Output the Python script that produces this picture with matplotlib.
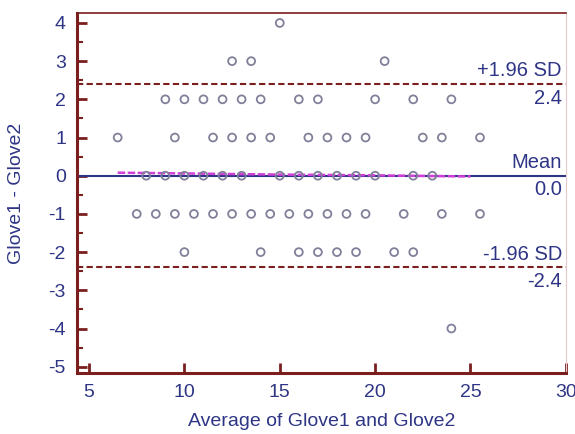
import matplotlib
matplotlib.use("Agg")
import matplotlib.pyplot as plt
import numpy as np

plt.rcParams['font.family'] = ['Liberation Sans', 'DejaVu Sans']
plt.rcParams['axes.unicode_minus'] = False

# Bland-Altman points: average (x) and difference (y)
avg_4 = [15]
avg_3 = [12.5, 13.5, 20.5]
avg_2 = [9, 10, 11, 12, 13, 14, 16, 17, 20, 22, 24]
avg_1 = [6.5, 9.5, 11.5, 12.5, 13.5, 14.5, 16.5, 17.5, 18.5, 19.5, 22.5, 23.5, 25.5]
avg_0 = [8, 9, 10, 11, 12, 13, 15, 16, 17, 18, 19, 20, 22, 23]
avg_m1 = [7.5, 8.5, 9.5, 10.5, 11.5, 12.5, 13.5, 14.5, 15.5, 16.5, 17.5, 18.5, 19.5, 21.5, 23.5, 25.5]
avg_m2 = [10, 14, 16, 17, 18, 19, 21, 22]
avg_m4 = [24]

mean_diff = 0.0
upper_loa = 2.4
lower_loa = -2.4

# smoothed trend (magenta)
trend_x = [6.5, 10, 15, 20, 25]
trend_y = [0.08, 0.06, 0.03, 0.01, -0.02]

xs, ys = [], []
for d, row in [(4, avg_4), (3, avg_3), (2, avg_2), (1, avg_1), (0, avg_0),
               (-1, avg_m1), (-2, avg_m2), (-4, avg_m4)]:
    xs += row
    ys += [d] * len(row)

navy = '#2e3585'
red = '#7a1e1e'

fig = plt.figure(figsize=(5.75, 4.34), dpi=100)
ax = fig.add_axes([0.134, 0.141, 0.850, 0.829])

ax.axhline(0, color='#333333', lw=1.2, ls=(0, (1, 1.5)), zorder=1)
ax.axhline(mean_diff, color=navy, lw=1.5, zorder=2)
ax.plot(trend_x, trend_y, color='#d040d8', lw=1.8, ls=(0, (3, 1)), zorder=2.5)
ax.axhline(upper_loa, color=red, lw=1.5, ls=(0, (3, 1.6)), zorder=2)
ax.axhline(lower_loa, color=red, lw=1.5, ls=(0, (3, 1.6)), zorder=2)

ax.scatter(xs, ys, s=32, facecolors='none', edgecolors='#80809a', linewidths=1.3, zorder=3)

tx = 29.8
kw = dict(ha='right', color=navy, fontsize=14.5)
ax.text(tx, upper_loa + 0.1, '+1.96 SD', va='bottom', **kw)
ax.text(tx, upper_loa - 0.12, f'{upper_loa:.1f}', va='top', **kw)
ax.text(tx, mean_diff + 0.1, 'Mean', va='bottom', **kw)
ax.text(tx, mean_diff - 0.12, f'{mean_diff:.1f}', va='top', **kw)
ax.text(tx, lower_loa + 0.1, '-1.96 SD', va='bottom', **kw)
ax.text(tx, lower_loa - 0.12, f'{lower_loa:.1f}', va='top', **kw)

ax.set_xlim(4.37, 30.0)
ax.set_ylim(-5.16, 4.26)
ax.set_xticks([5, 10, 15, 20, 25, 30])
ax.set_yticks(range(-5, 5))
ax.set_yticks(np.arange(-4.5, 4.5, 1), minor=True)

for s in ['left', 'bottom']:
    ax.spines[s].set_color(red)
    ax.spines[s].set_linewidth(2.2)
ax.spines['top'].set_color(red)
ax.spines['top'].set_linewidth(1.2)
ax.spines['right'].set_color('#e8c8c8')
ax.spines['right'].set_linewidth(0.8)

ax.tick_params(axis='both', which='major', direction='in', length=7, width=2,
               color=red, labelcolor=navy, labelsize=14)
ax.tick_params(axis='y', which='minor', direction='in', length=4, width=1.5, color=red)
ax.tick_params(axis='y', pad=8)
ax.tick_params(axis='x', pad=8)

ax.set_xlabel('Average of Glove1 and Glove2', color=navy, fontsize=14, labelpad=9)
ax.set_ylabel('Glove1 - Glove2', color=navy, fontsize=14, labelpad=17)

fig.savefig('out.png', dpi=100)
